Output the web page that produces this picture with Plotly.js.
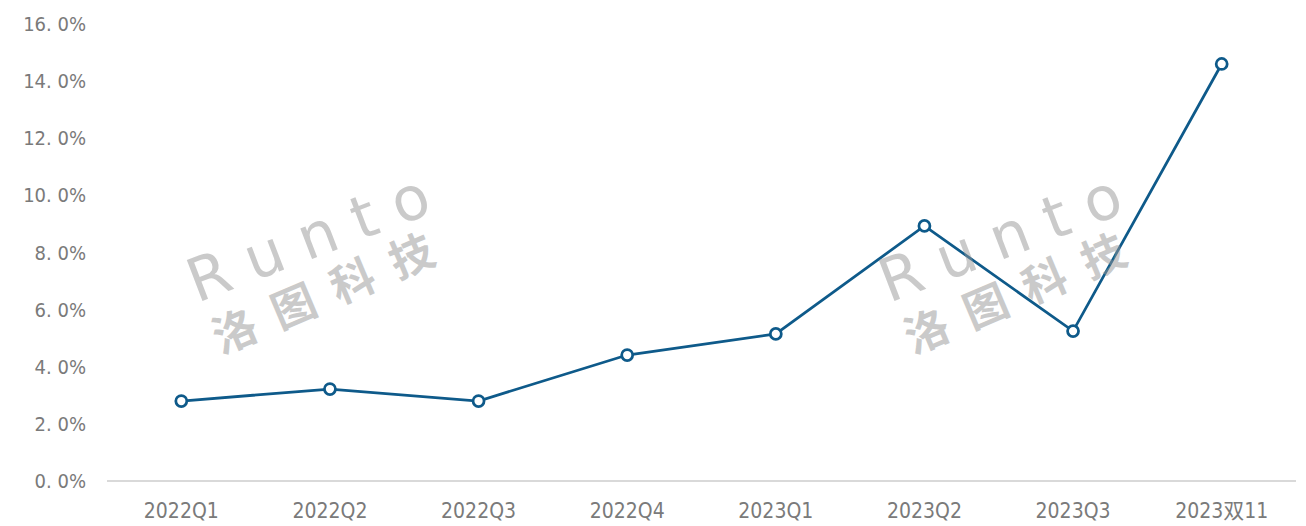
<!DOCTYPE html>
<html>
<head>
<meta charset="utf-8">
<script src="https://cdn.plot.ly/plotly-3.0.1.min.js"></script>
<style>html,body{margin:0;padding:0;background:#fff;}#chart{width:1306px;height:526px;}</style>
</head>
<body>
<div id="chart"></div>
<script>
const categories = ["2022Q1","2022Q2","2022Q3","2022Q4","2023Q1","2023Q2","2023Q3","2023双11"];
const values = [2.80, 3.22, 2.80, 4.41, 5.15, 8.93, 5.25, 14.60];
const yTickVals = [0,2,4,6,8,10,12,14,16];
const yTickText = ["0. 0%","2. 0%","4. 0%","6. 0%","8. 0%","10. 0%","12. 0%","14. 0%","16. 0%"];
const watermarkMain = "R u n t o";
const watermarkSub = "洛  图  科  技";

const lineColor = "#0e5a8a";
const tickFont = "DejaVu Sans Condensed, Noto Sans CJK SC";
const trace = {
  type: "scatter",
  mode: "lines+markers",
  x: categories,
  y: values,
  line: {color: lineColor, width: 2.75},
  marker: {size: 11, color: "#ffffff", line: {color: lineColor, width: 2.75}},
  hoverinfo: "skip"
};

const W = 1306, H = 526, ML = 107, MR = 10, MT = 24, MB = 45;
function px(x) { return (x - ML) / (W - ML - MR); }
function py(y) { return 1 - (y - MT) / (H - MT - MB); }

function wm(cx) {
  return [
    {xref:"paper", yref:"paper", x:px(cx), y:py(238), xanchor:"center", yanchor:"middle",
     text:watermarkMain, showarrow:false, textangle:-21,
     font:{family:"DejaVu Sans", size:60, color:"rgba(150,150,150,0.5)"}},
    {xref:"paper", yref:"paper", x:px(cx + 14), y:py(291), xanchor:"center", yanchor:"middle",
     text:watermarkSub, showarrow:false, textangle:-23,
     font:{family:"Noto Sans CJK SC", size:44, weight:"bold", color:"rgba(150,150,150,0.5)"}}
  ];
}

const layout = {
  width: W, height: H,
  margin: {l: ML, r: MR, t: MT, b: MB},
  paper_bgcolor: "#ffffff", plot_bgcolor: "#ffffff",
  showlegend: false,
  xaxis: {
    type: "category",
    range: [-0.5, 7.5],
    showgrid: false, zeroline: false,
    showline: false,
    ticks: "",
    ticklabelstandoff: 15,
    tickfont: {family: tickFont, size: 21, color: "#7a7a7a"},
    fixedrange: true
  },
  yaxis: {
    range: [0, 16],
    tickvals: yTickVals, ticktext: yTickText,
    showgrid: false,
    zeroline: true, zerolinecolor: "#d9d9d9", zerolinewidth: 1.5,
    showline: false, ticks: "",
    ticklabelstandoff: 20,
    tickfont: {family: tickFont, size: 20, color: "#7a7a7a"},
    fixedrange: true
  },
  annotations: wm(308).concat(wm(1000))
};

Plotly.newPlot("chart", [trace], layout, {displayModeBar: false, staticPlot: true});
</script>
</body>
</html>
